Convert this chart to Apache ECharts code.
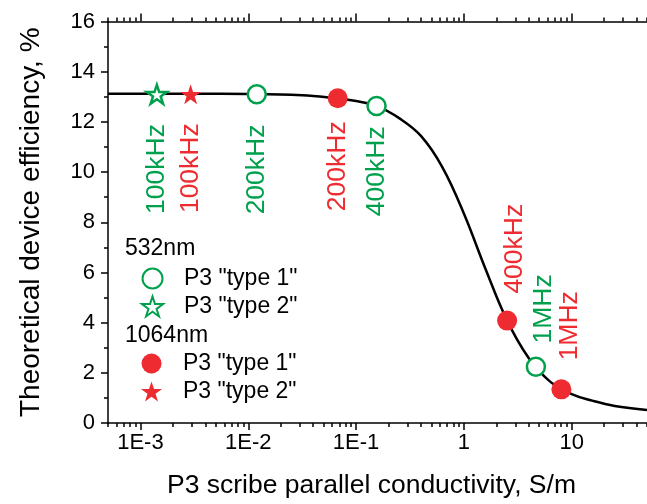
<!DOCTYPE html>
<html>
<head>
<meta charset="utf-8">
<script src="https://cdn.jsdelivr.net/npm/echarts@6/dist/echarts.min.js"></script>
<style>
  html, body { margin: 0; padding: 0; background: #fff; }
  #chart { width: 647px; height: 504px; }
</style>
</head>
<body>
<div id="chart"></div>
<script>
// simulated efficiency curve (conductivity S/m -> efficiency %)
const curveX = [5e-4, 1e-3, 3.16e-3, 0.01, 0.0316, 0.0562, 0.1, 0.158, 0.251, 0.398, 0.631,
                1, 1.585, 2.51, 3.98, 6.31, 10, 15.8, 25.1, 50];
const curveY = [13.12, 13.12, 13.12, 13.11, 13.06, 12.97, 12.83, 12.62, 12.15, 11.45, 10.2,
                8.35, 6.15, 4.1, 2.6, 1.65, 1.15, 0.88, 0.68, 0.52];

// 532nm measurements
const green1X = [0.012, 0.155, 4.66];
const green1Y = [13.1, 12.63, 2.24];
const green1Tag = ['200kHz', '400kHz', '1MHz'];
const green2X = [1.42e-3];
const green2Y = [13.1];
const green2Tag = ['100kHz'];

// 1064nm measurements
const red1X = [0.0676, 2.52, 8.03];
const red1Y = [12.94, 4.08, 1.34];
const red1Tag = ['200kHz', '400kHz', '1MHz'];
const red2X = [2.92e-3];
const red2Y = [13.1];
const red2Tag = ['100kHz'];

// axis ticks
const decades = [1e-3, 1e-2, 1e-1, 1, 10];
const decadeLabels = ['1E-3', '1E-2', '1E-1', '1', '10'];
const legendNames = ['P3 "type 1"', 'P3 "type 2"'];

const FONT = '"Liberation Sans", Arial, sans-serif';
const GREEN = '#00A04C';
const RED = '#EE2B30';
const STAR = 'path://M50 0 L61.2 34.5 L97.6 34.5 L68.2 55.9 L79.4 90.5 L50 69.1 L20.6 90.5 L31.8 55.9 L2.4 34.5 L38.8 34.5 Z';

// minor ticks at 2..9 of every decade
const minorTicks = [];
for (let e = -4; e <= 1; e++) {
    for (let k = 2; k <= 9; k++) {
        const v = k * Math.pow(10, e);
        if (v >= 4.99e-4 && v <= 50.01) minorTicks.push(v);
    }
}

// label gaps from the symbol (style only)
const gapG1 = [20, 10, 13];
const gapR1 = [13, 17, 19];

function points(xs, ys, tags, gaps) {
    return xs.map((x, i) => {
        const below = ys[i] > 8;
        return {
            value: [x, ys[i]],
            name: tags[i],
            label: below
                ? { position: 'bottom', distance: gaps[i], align: 'right', verticalAlign: 'middle' }
                : { position: 'top', distance: gaps[i], align: 'left', verticalAlign: 'middle', offset: [0, 8] }
        };
    });
}

function tagLabel(color) {
    return { show: true, formatter: '{b}', rotate: 90, fontSize: 26.5, fontFamily: FONT, color: color };
}

const logBase = { type: 'log', logBase: 10, min: 5e-4, max: 50, splitLine: { show: false } };
const blackLine = { show: true, onZero: false, lineStyle: { color: '#000', width: 1.5 } };
const legendText = { fontSize: 23, fontFamily: FONT, color: '#000', lineHeight: 23 };

const chart = echarts.init(document.getElementById('chart'));

chart.setOption({
    animation: false,
    backgroundColor: '#fff',
    grid: { left: 108, top: 21.5, width: 543.75, height: 401.5 },
    xAxis: [
        Object.assign({}, logBase, {
            position: 'bottom',
            axisLine: blackLine,
            axisTick: { show: true, length: 7, customValues: decades, lineStyle: { color: '#000', width: 1.5 } },
            axisLabel: {
                show: true, customValues: decades, margin: 9, fontSize: 22, fontFamily: FONT, color: '#000',
                formatter: v => decadeLabels[Math.round(Math.log10(v)) + 3]
            },
            name: 'P3 scribe parallel conductivity, S/m',
            nameLocation: 'middle',
            nameGap: 49,
            nameTextStyle: { fontSize: 26.5, fontFamily: FONT, color: '#000', padding: [0, 12, 0, 0] }
        }),
        Object.assign({}, logBase, {
            position: 'bottom',
            axisLine: { show: false, onZero: false },
            axisTick: { show: true, length: 4, customValues: minorTicks, lineStyle: { color: '#000', width: 1.5 } },
            axisLabel: { show: false }
        }),
        Object.assign({}, logBase, {
            position: 'top',
            axisLine: blackLine,
            axisTick: { show: true, length: 8, customValues: decades, lineStyle: { color: '#000', width: 1.5 } },
            axisLabel: { show: false }
        }),
        Object.assign({}, logBase, {
            position: 'top',
            axisLine: { show: false, onZero: false },
            axisTick: { show: true, length: 4, customValues: minorTicks, lineStyle: { color: '#000', width: 1.5 } },
            axisLabel: { show: false }
        })
    ],
    yAxis: {
        type: 'value',
        min: 0,
        max: 16,
        interval: 2,
        axisLine: blackLine,
        axisTick: { show: true, length: 7, lineStyle: { color: '#000', width: 1.5 } },
        minorTick: { show: true, splitNumber: 2, length: 4, lineStyle: { color: '#000', width: 1.5 } },
        splitLine: { show: false },
        axisLabel: { margin: 13, fontSize: 22, fontFamily: FONT, color: '#000' },
        name: 'Theoretical device efficiency, %',
        nameLocation: 'middle',
        nameGap: 63,
        nameTextStyle: { fontSize: 28, fontFamily: FONT, color: '#000' }
    },
    legend: [
        {
            data: ['g1', 'g2'],
            orient: 'vertical', left: 141, top: 267, padding: 0,
            itemWidth: 53, itemHeight: 20, itemGap: 5,
            formatter: n => legendNames[n.endsWith('1') ? 0 : 1],
            textStyle: legendText
        },
        {
            data: ['r1', 'r2'],
            orient: 'vertical', left: 141, top: 352, padding: 0,
            itemWidth: 53, itemHeight: 20, itemGap: 5,
            formatter: n => legendNames[n.endsWith('1') ? 0 : 1],
            textStyle: legendText
        }
    ],
    graphic: [
        { type: 'text', left: 125, top: 237, style: { text: '532nm', font: '23px ' + FONT, fill: '#000' } },
        { type: 'text', left: 125, top: 324, style: { text: '1064nm', font: '23px ' + FONT, fill: '#000' } }
    ],
    series: [
        {
            name: 'curve',
            type: 'line',
            data: curveX.map((x, i) => [x, curveY[i]]),
            smooth: 0.4,
            showSymbol: false,
            lineStyle: { color: '#000', width: 2.5 },
            z: 1
        },
        {
            name: 'g1',
            type: 'scatter',
            data: points(green1X, green1Y, green1Tag, gapG1),
            symbol: 'circle',
            symbolSize: 18,
            itemStyle: { color: '#fff', borderColor: GREEN, borderWidth: 2.5, opacity: 1 },
            label: tagLabel(GREEN),
            z: 3
        },
        {
            name: 'g2',
            type: 'scatter',
            data: points(green2X, green2Y, green2Tag, [19]),
            symbol: STAR,
            symbolSize: 20,
            symbolKeepAspect: true,
            itemStyle: { color: '#fff', borderColor: GREEN, borderWidth: 2.5, opacity: 1 },
            label: tagLabel(GREEN),
            z: 3
        },
        {
            name: 'r1',
            type: 'scatter',
            data: points(red1X, red1Y, red1Tag, gapR1),
            symbol: 'circle',
            symbolSize: 20,
            itemStyle: { color: RED, opacity: 1 },
            label: tagLabel(RED),
            z: 3
        },
        {
            name: 'r2',
            type: 'scatter',
            data: points(red2X, red2Y, red2Tag, [19]),
            symbol: STAR,
            symbolSize: 21,
            symbolKeepAspect: true,
            itemStyle: { color: RED, opacity: 1 },
            label: tagLabel(RED),
            z: 3
        }
    ]
});
</script>
</body>
</html>
